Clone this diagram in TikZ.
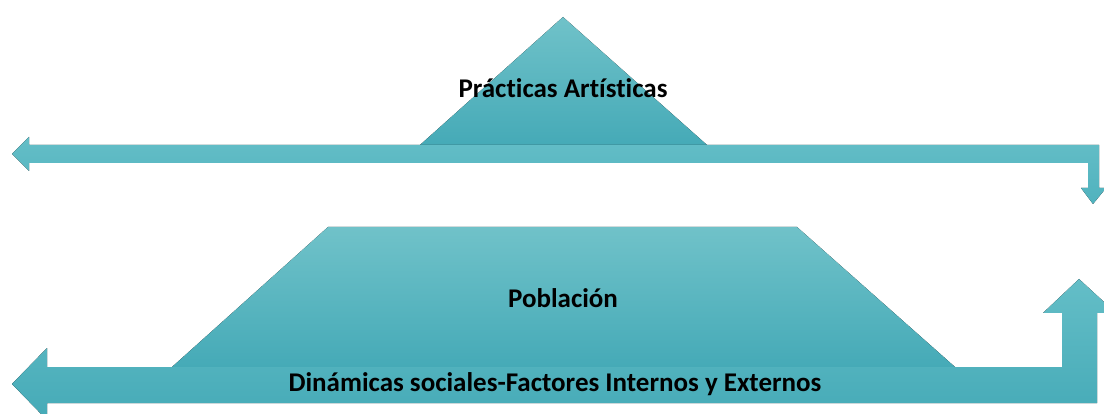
\documentclass[tikz,border=0pt]{standalone}
\usepackage{fontspec}
\setmainfont[Ligatures=NoCommon]{Carlito}
\begin{document}
\begin{tikzpicture}[x=1pt,y=-1pt,
  shape1/.style={top color=tealA,bottom color=tealB,draw=none},
  lbl/.style={font=\bfseries\fontsize{27}{32}\selectfont,text=black,inner sep=0pt}]
\definecolor{tealA}{RGB}{112,194,201}
\definecolor{tealB}{RGB}{69,170,183}
\definecolor{tealC}{RGB}{100,190,199}
\definecolor{tealD}{RGB}{80,178,190}
\useasboundingbox (0,0) rectangle (1104,414);
% triangle
\fill[shape1] (420,145) -- (563,17) -- (707,145) -- cycle;
% top arrow
\fill[top color=tealC,bottom color=tealD] (12,154) -- (29,137) -- (29,145) -- (1099,145) -- (1099,188)
  -- (1106,188) -- (1093,204) -- (1081,188) -- (1088,188) -- (1088,163) -- (29,163) -- (29,171) -- cycle;
% trapezoid
\fill[shape1] (172,367) -- (328,227) -- (797,227) -- (955,367) -- cycle;
% bottom arrow
\fill[top color=tealC,bottom color=tealB] (12,384) -- (47,348) -- (47,367) -- (1062,367) -- (1062,313)
  -- (1043,313) -- (1079,279) -- (1116,313) -- (1097,313) -- (1097,403) -- (47,403) -- (47,420) -- cycle;
\node[lbl] (pa) at (563,88) {Prácticas Artísticas};
\node[lbl] (po) at (563,298) {Población};
\node[lbl] (di) at (555,384) {Dinámicas sociales-Factores Internos y Externos};
\end{tikzpicture}
\end{document}
